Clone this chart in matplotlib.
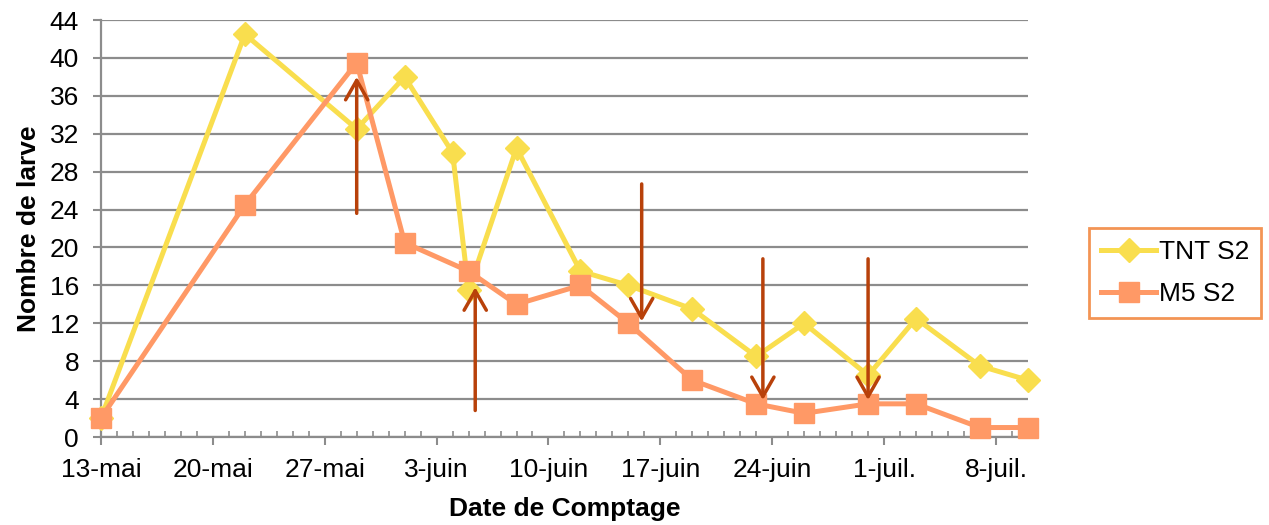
import datetime as dt
import matplotlib.pyplot as plt
import matplotlib.dates as mdates
from matplotlib.ticker import MultipleLocator

plt.rcParams['font.family'] = ['Liberation Sans', 'DejaVu Sans']

# Dates de comptage (2013 arbitraire, seul jour/mois compte)
dates = ['2013-05-13', '2013-05-22', '2013-05-29', '2013-06-01', '2013-06-04',
         '2013-06-05', '2013-06-08', '2013-06-12', '2013-06-15', '2013-06-19',
         '2013-06-23', '2013-06-26', '2013-06-30', '2013-07-03', '2013-07-07',
         '2013-07-10']
tnt_s2 = [2, 42.5, 32.5, 38, 30, 15.5, 30.5, 17.5, 16, 13.5, 8.5, 12, 6.5, 12.5, 7.5, 6]

m5_dates = ['2013-05-13', '2013-05-22', '2013-05-29', '2013-06-01', '2013-06-05',
            '2013-06-08', '2013-06-12', '2013-06-15', '2013-06-19', '2013-06-23',
            '2013-06-26', '2013-06-30', '2013-07-03', '2013-07-07', '2013-07-10']
m5_s2 = [2, 24.5, 39.5, 20.5, 17.5, 14, 16, 12, 6, 3.5, 2.5, 3.5, 3.5, 1, 1]

tick_dates = ['2013-05-13', '2013-05-20', '2013-05-27', '2013-06-03', '2013-06-10',
              '2013-06-17', '2013-06-24', '2013-07-01', '2013-07-08']
tick_labels = ['13-mai', '20-mai', '27-mai', '3-juin', '10-juin', '17-juin',
               '24-juin', '1-juil.', '8-juil.']

# Flèches (date, début, fin)
arrow_dates = ['2013-05-29 00:00', '2013-06-05 10:00', '2013-06-15 20:00',
               '2013-06-23 10:00', '2013-06-30 00:00']
arrow_start = [23.6, 2.8, 26.7, 18.8, 18.8]
arrow_end = [38.0, 15.8, 12.2, 3.9, 3.9]


def to_dt(lst, fmt='%Y-%m-%d'):
    return [dt.datetime.strptime(s, fmt) for s in lst]


x_tnt = to_dt(dates)
x_m5 = to_dt(m5_dates)
x_ticks = to_dt(tick_dates)
x_arrows = to_dt(arrow_dates, '%Y-%m-%d %H:%M')

fig = plt.figure(figsize=(12.69, 5.25), dpi=100)
ax = fig.add_axes([0.0796, 0.1676, 0.7304, 0.7943])

grid_c = '#8c8c8c'
fs = 19
ax.set_ylim(0, 44)
ax.set_xlim(x_tnt[0], x_tnt[-1])
ax.yaxis.set_major_locator(MultipleLocator(4))
ax.grid(axis='y', color=grid_c, linewidth=1.6)
ax.set_axisbelow(True)

ax.plot(x_tnt, tnt_s2, color='#F9DE4E', lw=3.6, marker='D', ms=12.5,
        label='TNT S2', zorder=3, clip_on=False)
ax.plot(x_m5, m5_s2, color='#FF9966', lw=3.6, marker='s', ms=14.5,
        label='M5 S2', zorder=4, clip_on=False)

for x, y0, y1 in zip(x_arrows, arrow_start, arrow_end):
    ax.annotate('', xy=(x, y1), xytext=(x, y0),
                arrowprops=dict(arrowstyle='->,head_length=0.7,head_width=0.4',
                                color='#B8410A', lw=2.5, mutation_scale=20,
                                shrinkA=0, shrinkB=0),
                zorder=5)

ax.set_xticks(x_ticks)
ax.set_xticklabels(tick_labels)
ax.xaxis.set_minor_locator(mdates.DayLocator())
ax.tick_params(axis='x', which='major', direction='out', length=5.8, width=1.5,
               color=grid_c, labelsize=fs, pad=9)
ax.tick_params(axis='x', which='minor', direction='in', length=4.3, width=1.2,
               color=grid_c)
ax.tick_params(axis='y', direction='out', length=5.8, width=1.5, color=grid_c,
               labelsize=fs, pad=10)

for side in ['top', 'right']:
    ax.spines[side].set_visible(False)
for side in ['left', 'bottom']:
    ax.spines[side].set_color(grid_c)
    ax.spines[side].set_linewidth(1.6)

ax.set_xlabel('Date de Comptage', fontsize=fs, fontweight='bold', labelpad=11)
ax.set_ylabel('Nombre de larve', fontsize=fs, fontweight='bold', labelpad=6)

leg = fig.legend(loc='upper left', bbox_to_anchor=(1089 / 1269, 1 - 228 / 525),
                 fontsize=fs, frameon=True, fancybox=False, handlelength=2.1,
                 handletextpad=0.1, borderpad=0.45, labelspacing=0.7,
                 borderaxespad=0)
leg.get_frame().set_edgecolor('#F07A2A')
leg.get_frame().set_linewidth(2)

fig.savefig('out.png', dpi=100)
